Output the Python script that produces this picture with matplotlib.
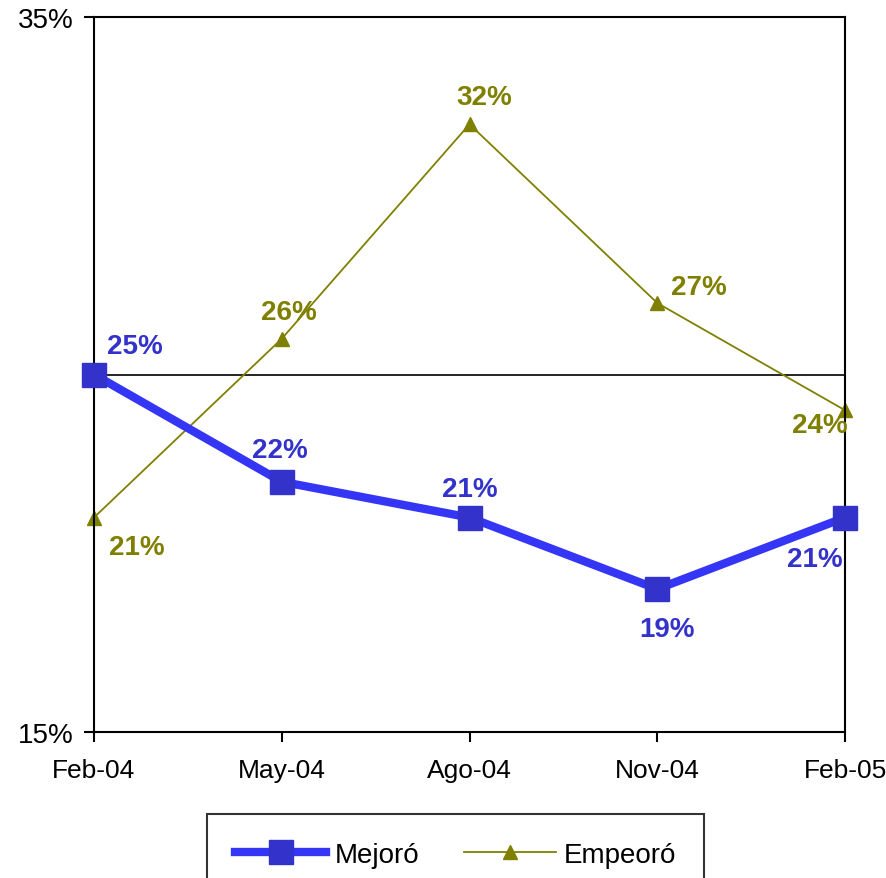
import matplotlib
matplotlib.use("Agg")
import matplotlib.pyplot as plt
import numpy as np

plt.rcParams["font.family"] = ["Liberation Sans", "DejaVu Sans"]

periods = ["Feb-04", "May-04", "Ago-04", "Nov-04", "Feb-05"]
mejoro = [25, 22, 21, 19, 21]
empeoro = [21, 26, 32, 27, 24]

# label offsets in pixels (dx, dy)
mejoro_off = [(41, 29), (-2, 32), (0, 28), (10, -40), (-30, -42)]
empeoro_off = [(43, -30), (7, 27), (15, 27), (42, 16), (-25, -15)]

blue_line = "#3535F5"
blue = "#3333CC"
olive = "#808000"

fig = plt.figure(figsize=(8.86, 8.79), dpi=100)
ax = fig.add_axes([94 / 886, 1 - 733 / 879, 751 / 886, 715 / 879])

x = np.arange(len(periods))

ax.axhline(25, color="black", linewidth=1.2, zorder=1)

ax.plot(x, mejoro, color=blue_line, linewidth=6, marker="s", markersize=17,
        markerfacecolor=blue, markeredgecolor=blue, label="Mejoró",
        clip_on=False, zorder=3)
ax.plot(x, empeoro, color=olive, linewidth=1.3, marker="^", markersize=10,
        markerfacecolor=olive, markeredgecolor=olive, label="Empeoró",
        clip_on=False, zorder=2)

for xi, v, off in zip(x, mejoro, mejoro_off):
    ax.annotate(f"{v}%", (xi, v), xytext=off, textcoords="offset pixels",
                ha="center", va="center", fontsize=20, fontweight="bold",
                color=blue, zorder=4)
for xi, v, off in zip(x, empeoro, empeoro_off):
    ax.annotate(f"{v}%", (xi, v), xytext=off, textcoords="offset pixels",
                ha="center", va="center", fontsize=20, fontweight="bold",
                color=olive, zorder=4)

ax.set_xlim(0, 4)
ax.set_ylim(15, 35)
ax.set_xticks(x)
ax.set_xticklabels(periods)
ax.set_yticks([15, 35])
ax.set_yticklabels(["15%", "35%"])
ax.tick_params(axis="both", direction="out", length=7, width=1.5,
               colors="black")
ax.tick_params(axis="x", pad=12, labelsize=19)
ax.tick_params(axis="y", pad=8, labelsize=20)
for s in ax.spines.values():
    s.set_linewidth(1.5)

leg = fig.legend(loc="upper left", bbox_to_anchor=(207 / 886, 1 - 815 / 879),
                 borderaxespad=0, ncol=2, fontsize=20, frameon=True,
                 fancybox=False, edgecolor="black", handlelength=3.3,
                 handletextpad=0.3, columnspacing=1.6, borderpad=1.0)
leg.get_frame().set_linewidth(1.5)

fig.savefig("out.png", dpi=100)
